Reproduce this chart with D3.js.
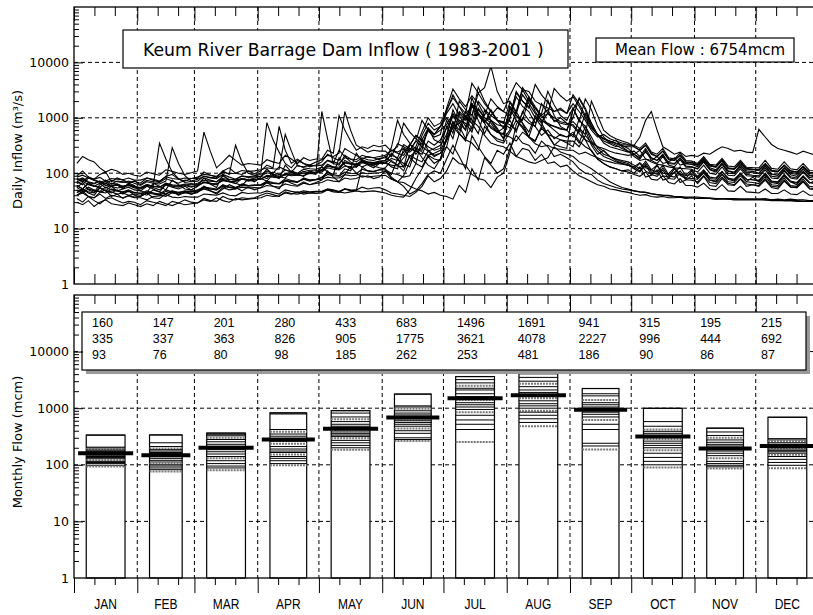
<!DOCTYPE html>
<html>
<head>
<meta charset="utf-8">
<script src="https://cdn.jsdelivr.net/npm/d3@7"></script>
<style>
  html, body { margin: 0; padding: 0; background: #fff; }
  svg { display: block; font-family: "Liberation Sans", Arial, sans-serif; }
  .grid { stroke: #000; stroke-width: 1; stroke-dasharray: 4,3; fill: none; }
  .wide { font-family: "DejaVu Sans", Verdana, sans-serif; }
</style>
</head>
<body>
<svg id="chart" width="813" height="615"></svg>
<script>
// ---- Categories and labels ----
const months = ["JAN","FEB","MAR","APR","MAY","JUN","JUL","AUG","SEP","OCT","NOV","DEC"];
const monthDays = [31,28,31,30,31,30,31,31,30,31,30,31];
const years = [1983,1984,1985,1986,1987,1988,1989,1990,1991,1992,1993,1994,1995,1996,1997,1998,1999,2000,2001];
const decadeTicks = [1,10,100,1000,10000];
const titleText = "Keum River Barrage Dam Inflow ( 1983-2001 )";
const meanFlowText = "Mean Flow : 6754mcm";
const yLabelTop = "Daily Inflow (m\u00B3/s)";
const yLabelBottom = "Monthly Flow (mcm)";

// ---- Daily inflow (m3/s) of each year: readings every ~3 days, grouped by month ----
const q1983 = [[55,68,50,45,62,72,58,48,52,66,60],[48,44,66,58,50,75,62,52,50],[58,82,64,55,95,72,66,60,78,70],[85,120,92,80,140,105,95,88,110,100],[130,105,95,190,140,120,230,165,140,125,150],[160,130,120,280,190,150,420,260,210,230],[300,850,520,380,1700,900,520,900,600,420],[600,1300,800,450,1000,700,2100,1100,700,600],[450,950,600,320,220,260,200,170,150,140],[120,150,110,95,140,90,85,120,92,80,110],[80,105,75,70,95,78,72,98,70,85],[70,95,68,65,90,70,62,88,66,75]];
const q1984 = [[40,48,38,36,45,50,38,42,35,40,37],[38,44,36,35,42,48,40,46,42],[45,58,48,42,52,62,55,48,56,50],[55,68,58,52,75,66,60,70,62,68],[75,110,85,70,95,130,100,85,90,80,85],[110,80,70,90,160,280,190,140,120,180],[450,1400,800,600,2300,1200,800,500,420,380],[1500,900,700,450,380,650,480,320,400,350],[300,650,400,250,180,150,130,120,110,115],[100,130,85,92,115,75,80,105,68,75,90],[65,88,60,58,80,62,60,78,58,62],[58,75,55,52,72,56,55,70,52,50]];
const q1985 = [[90,110,85,78,95,105,70,82,75,68,72],[66,82,75,70,88,95,78,72,80],[80,105,92,85,110,125,100,95,110,98],[110,140,125,700,260,150,180,150,130,140],[160,220,190,170,280,240,210,180,200,190,175],[200,160,140,190,260,380,300,250,280,320],[500,1100,700,420,700,1500,1000,800,550,650],[950,2400,1600,1300,800,1200,3000,1700,1100,900],[1500,850,2200,1400,700,450,350,400,300,250],[220,260,180,170,200,150,160,190,140,150,145],[130,170,125,115,150,110,105,140,110,108],[100,135,98,92,125,100,95,120,92,90]];
const q1986 = [[60,52,68,58,55,48,58,62,52,56,50],[48,58,52,46,62,56,52,58,50],[58,70,64,62,78,70,65,80,72,75],[80,72,95,86,82,105,92,90,100,95],[1300,420,150,260,200,160,130,170,150,140,160],[150,230,180,130,320,480,380,300,260,280],[700,420,1200,900,1800,1100,800,1400,900,650],[900,550,1300,900,700,480,600,420,500,450],[500,350,700,450,280,220,200,180,170,160],[140,120,165,115,105,140,95,100,130,90,95],[85,110,80,78,105,82,75,98,78,76],[72,95,70,68,90,70,66,85,68,64]];
const q1987 = [[70,62,82,74,68,75,64,72,70,66,72],[62,74,70,68,80,72,66,75,70],[72,88,82,80,95,85,78,90,86,90],[95,110,100,130,115,105,140,125,120,118],[130,170,150,140,210,180,160,190,175,170,185],[190,260,230,210,320,480,400,650,500,700],[1300,2600,1600,1200,4200,2800,3500,8500,3000,1800],[2000,1300,3500,2400,1600,1100,1400,850,1000,800],[750,550,1200,800,480,380,340,300,320,280],[220,180,260,170,150,200,140,130,175,128,130],[120,160,118,110,150,108,100,140,104,102],[98,135,95,92,125,94,88,118,90,85]];
const q1988 = [[35,30,38,32,28,34,36,32,29,31,30],[27,32,30,28,26,31,29,33,30],[29,35,32,31,38,34,33,36,35,36],[40,44,41,38,46,43,42,45,44,46],[46,50,48,47,52,50,49,130,145,135,125],[120,85,70,58,42,48,65,95,110,100],[180,320,200,120,480,300,200,150,260,220],[350,200,280,260,170,220,150,160,130,140],[110,90,80,70,62,58,52,50,47,45],[42,40,41,38,37,38,36,36,37,35,36],[35,36,35,34,35,34,35,34,34,34],[34,35,33,34,33,34,33,33,32,32]];
const q1989 = [[75,82,70,66,72,60,58,64,56,62,58],[54,62,58,350,180,105,80,68,65],[62,82,75,70,88,78,75,80,76,82],[88,80,105,95,92,110,100,98,105,100],[115,145,130,120,170,150,140,175,160,155,165],[170,290,900,500,350,220,300,650,400,350],[900,520,2000,1400,1100,2800,1800,1300,900,800],[650,1200,2600,1800,1200,900,800,700,650,600],[1000,2300,1500,800,500,350,300,280,260,240],[250,200,280,190,170,220,150,145,190,135,130],[120,160,115,105,145,100,98,130,96,92],[90,125,88,85,115,86,82,108,84,80]];
const q1990 = [[150,200,175,160,125,105,118,110,95,100,92],[88,105,98,92,115,108,100,95,102],[110,550,250,125,160,210,170,140,150,145],[140,175,160,150,210,180,150,190,170,180],[180,260,230,1100,600,380,260,300,280,320,300],[320,250,300,800,550,420,330,580,450,500],[1500,3300,2200,1600,2500,1800,1100,2200,1600,1300],[1100,2800,2000,1500,4000,2600,1900,1300,1500,1200],[2600,1800,1100,700,500,420,380,350,330,320],[320,280,350,240,220,280,190,180,230,170,165],[150,200,145,140,185,135,130,170,128,126],[125,170,122,118,160,120,115,150,112,110]];
const q1991 = [[50,44,52,48,47,56,50,48,45,47,44],[44,40,50,46,42,48,45,46,48],[48,58,52,50,62,56,55,60,58,60],[62,72,68,65,80,74,70,78,72,76],[85,105,95,90,120,110,150,130,110,105,115],[125,170,140,110,210,180,160,250,200,230],[380,700,500,1100,800,520,1400,900,650,420],[1600,1100,800,550,1100,800,500,450,400,380],[380,300,480,350,250,200,180,160,150,140],[130,110,150,105,95,125,90,85,110,82,80],[78,100,75,72,95,70,68,90,70,68],[65,88,62,60,82,60,58,78,58,56]];
const q1992 = [[45,52,44,40,55,48,44,50,42,48,40],[38,44,42,40,47,44,42,45,42],[46,54,52,50,58,55,52,64,60,62],[60,68,65,64,72,70,68,82,75,78],[82,95,90,88,105,100,98,118,110,108,115],[115,100,95,85,90,150,130,210,180,170],[300,220,520,400,350,260,700,500,380,350],[550,900,650,450,380,700,500,330,300,280],[1500,900,700,380,300,250,200,180,160,150],[120,105,140,95,88,115,80,78,100,76,75],[70,90,68,65,85,66,62,80,64,62],[60,80,58,56,75,57,55,72,54,52]];
const q1993 = [[80,72,86,76,70,66,74,70,68,72,66],[60,70,66,64,72,290,150,90,72],[78,88,84,82,110,95,320,160,100,92],[100,820,400,240,150,125,170,150,140,160],[175,210,200,230,1300,600,320,280,240,260,250],[250,200,340,300,260,380,900,600,500,700],[1200,1800,1100,700,1000,3600,2000,1300,900,800],[1900,1200,3200,2000,1500,1000,1200,900,800,750],[850,650,500,2000,1100,600,480,420,380,350],[300,260,320,220,200,250,175,170,210,160,155],[145,190,140,130,175,125,120,160,122,118],[115,150,112,108,140,110,105,135,104,100]];
const q1994 = [[55,48,56,50,46,44,52,48,46,50,45],[43,48,44,41,38,45,42,44,46],[46,52,48,44,55,50,52,56,54,55],[54,60,58,56,64,60,58,66,62,65],[68,76,72,70,82,78,80,90,85,88,90],[92,78,70,68,58,52,48,42,45,40],[38,34,60,45,120,75,190,140,100,120],[280,480,350,320,230,380,300,200,220,190],[160,120,100,95,75,65,60,55,52,50],[48,46,45,43,41,40,40,38,38,37,37],[37,36,36,35,35,35,34,34,34,34],[34,33,33,33,32,32,32,31,31,31]];
const q1995 = [[30,27,32,25,30,33,28,27,26,29,27],[25,28,26,31,28,26,29,27,28],[29,33,31,36,32,30,35,33,34,35],[36,40,38,39,44,42,46,42,44,43],[44,50,46,45,52,48,50,56,52,54,55],[50,44,42,40,38,45,58,90,70,80],[110,190,150,140,95,80,75,55,85,100],[230,750,1200,2400,1300,900,750,600,480,450],[550,380,300,260,180,150,130,120,110,105],[95,88,105,78,75,90,68,64,80,60,60],[56,66,52,50,62,48,47,58,46,45],[44,52,43,43,50,42,41,48,40,40]];
const q1996 = [[65,72,62,58,66,54,62,60,58,62,56],[54,60,58,56,64,60,58,62,58],[60,68,66,64,74,70,72,78,75,78],[78,88,85,82,95,90,92,102,98,100],[105,125,118,115,135,130,128,155,145,140,150],[150,185,170,240,330,280,260,650,500,600],[750,1200,900,600,1800,1200,900,650,550,500],[450,380,550,450,340,300,320,280,270,260],[260,220,240,210,190,170,160,150,145,140],[130,155,125,115,140,100,98,125,96,92,115],[88,115,85,82,108,80,78,100,78,76],[75,100,72,70,95,72,68,90,68,66]];
const q1997 = [[85,92,82,78,84,72,80,78,76,82,75],[75,82,78,72,86,80,78,82,80],[85,95,92,88,104,98,100,112,108,110],[115,125,120,118,500,250,135,130,140,135],[140,170,160,150,190,180,175,210,195,190,200],[210,260,240,280,240,300,560,1000,700,800],[1400,2300,1600,1000,800,2000,1400,1100,900,850],[750,600,1000,800,700,1800,1200,1000,850,800],[700,520,400,350,300,280,250,230,220,210],[220,190,240,185,170,210,155,150,185,148,145],[140,175,135,130,165,122,120,150,120,118],[115,145,112,108,138,110,105,130,104,100]];
const q1998 = [[60,52,64,58,56,66,58,54,56,60,54],[52,58,55,50,62,58,56,60,56],[60,68,66,64,74,70,72,80,76,78],[78,92,88,84,98,95,96,108,102,105],[110,135,125,118,155,145,140,165,155,150,160],[170,210,190,330,280,250,480,800,600,700],[1000,700,1300,1000,1800,1200,850,1100,1500,1300],[2500,4300,3200,3000,2000,1700,1500,1300,1400,1200],[1800,1300,900,600,450,500,420,380,350,330],[320,450,900,1300,600,300,260,220,240,200,210],[200,230,220,260,300,280,250,260,240,235],[620,450,330,280,260,240,220,250,230,210]];
const q1999 = [[45,50,46,44,54,48,46,42,44,40,42],[40,46,44,42,50,46,45,48,46],[50,56,54,52,60,56,55,62,60,60],[62,68,66,65,74,72,70,78,75,76],[78,85,82,82,94,90,92,102,98,100,102],[108,95,180,150,130,290,240,210,230,260],[420,650,800,1000,620,1200,900,700,550,520],[1600,1100,900,2200,1500,1100,750,700,620,600],[1400,2200,1400,700,500,420,360,320,280,250],[200,170,180,160,145,140,130,125,122,120,118],[105,140,100,95,130,92,90,120,90,88],[85,115,82,80,110,82,78,105,78,75]];
const q2000 = [[70,78,68,64,72,60,66,64,58,62,58],[55,62,58,56,66,62,60,64,62],[66,74,72,70,80,76,78,88,84,86],[88,102,96,92,115,105,100,118,110,112],[115,135,130,128,155,150,148,160,155,150,152],[150,140,135,130,200,250,220,380,320,400],[650,1100,900,800,550,1400,1000,900,750,700],[1000,3000,2000,1600,1000,850,1200,3400,2500,2000],[2400,1600,1000,650,500,420,380,340,310,300],[300,260,320,230,200,250,180,170,210,158,155],[140,180,135,128,170,120,118,155,118,116],[112,145,108,105,138,104,100,130,98,96]];
const q2001 = [[40,44,38,36,42,35,40,38,36,39,36],[36,33,38,39,41,37,36,38,37],[37,42,41,40,44,40,39,45,43,44],[44,48,45,42,50,47,45,48,46,47],[47,52,50,46,44,46,48,46,47,48,46],[44,40,38,37,50,80,120,200,150,180],[420,850,600,1300,900,700,480,350,320,300],[250,200,180,160,150,170,190,300,240,220],[200,160,140,120,100,85,70,62,55,52],[48,46,45,42,41,40,39,38,37,36,36],[35,35,35,34,34,34,33,33,33,33],[33,33,32,32,32,32,31,31,31,31]];
const dailySeries = [q1983,q1984,q1985,q1986,q1987,q1988,q1989,q1990,q1991,q1992,q1993,q1994,q1995,q1996,q1997,q1998,q1999,q2000,q2001];

// ---- Monthly flow statistics (mcm): mean, maximum, minimum ----
const monthMean = [160,147,201,280,433,683,1496,1691,941,315,195,215];
const monthMax  = [335,337,363,826,905,1775,3621,4078,2227,996,444,692];
const monthMin  = [93,76,80,98,185,262,253,481,186,90,86,87];

// ---- Monthly flow of each year (mcm), per month ----
const flowJan = [335,205,198,190,182,175,168,160,152,148,140,135,128,120,115,110,105,98,93];
const flowFeb = [337,245,210,195,185,175,165,158,150,140,130,120,112,105,100,95,88,82,76];
const flowMar = [363,340,325,300,280,255,230,212,200,185,170,155,140,130,118,105,95,88,80];
const flowApr = [826,790,420,385,350,320,290,260,235,210,190,175,165,152,140,130,118,105,98];
const flowMay = [905,820,700,640,580,520,480,440,410,380,355,335,315,295,270,245,220,200,185];
const flowJun = [1775,1100,1050,980,900,820,760,700,640,600,560,520,480,440,400,360,300,280,262];
const flowJul = [3621,3200,2800,2500,2250,2100,1800,1600,1400,1250,1150,1050,950,850,750,620,520,420,253];
const flowAug = [4078,3500,3000,2700,2400,2100,1900,1700,1500,1350,1200,1100,1000,900,850,750,650,560,481];
const flowSep = [2227,1800,1650,1400,1250,1150,1050,1000,960,900,850,780,700,620,520,420,240,215,186];
const flowOct = [996,580,480,420,390,360,330,305,285,262,240,220,200,180,160,135,115,100,90];
const flowNov = [444,380,330,300,275,250,230,215,200,190,175,160,145,130,115,105,98,92,86];
const flowDec = [692,290,275,260,245,230,220,210,200,190,180,170,160,150,140,125,110,98,87];
const monthlyFlows = [flowJan,flowFeb,flowMar,flowApr,flowMay,flowJun,flowJul,flowAug,flowSep,flowOct,flowNov,flowDec];

// ---- Layout ----
const svg = d3.select("#chart");
const monthStart = Array.from(d3.cumsum([0].concat(monthDays.slice(0, 11))));
const monthEnd = Array.from(d3.cumsum(monthDays));
const boundaries = monthStart.slice(1);

const x = d3.scaleLinear().domain([0, 365]).range([74, 819]);
const yTop = d3.scaleLog().domain([1, 1e5]).range([284, 7]);
const yBot = d3.scaleLog().domain([1, 1e5]).range([578, 295]);

// place each reading at its day within its month
function toPoints(series) {
  const pts = [];
  series.forEach((vals, m) => {
    const step = monthDays[m] / vals.length;
    vals.forEach((v, j) => pts.push([monthStart[m] + (j + 0.5) * step, v]));
  });
  return pts;
}

// Minor log ticks (2..9 within each decade) and day ticks
const minorLog = [];
decadeTicks.forEach(d => { for (let k = 2; k <= 9; k++) minorLog.push(d * k); });
const dayMinor = [];
monthStart.forEach(s => { dayMinor.push(s + 10, s + 20); });
const dayMajor = monthStart.concat([365]);

function grid(g, y) {
  decadeTicks.slice(1).forEach(v => {
    g.append("line").attr("class", "grid")
      .attr("x1", x(0)).attr("x2", x(365)).attr("y1", y(v)).attr("y2", y(v));
  });
  boundaries.forEach(d => {
    g.append("line").attr("class", "grid")
      .attr("x1", x(d)).attr("x2", x(d)).attr("y1", y.range()[1]).attr("y2", y.range()[0]);
  });
}

function frame(g, y, bottomOutward) {
  const top = y.range()[1], bottom = y.range()[0];
  const strip = sel => sel.call(s => s.select(".domain").remove());
  g.append("g").attr("transform", `translate(${x(0)},0)`)
    .call(d3.axisLeft(y).tickValues(decadeTicks).tickSize(0).tickPadding(5).tickFormat(d3.format("d")))
    .call(strip).selectAll("text")
    .attr("font-size", 12.5).attr("font-family", "DejaVu Sans, Verdana, sans-serif").attr("fill", "#000");
  g.append("g").attr("transform", `translate(${x(0)},0)`)
    .call(d3.axisRight(y).tickValues(minorLog).tickSize(5).tickFormat("")).call(strip);
  g.append("g").attr("transform", `translate(${x(0)},0)`)
    .call(d3.axisRight(y).tickValues(decadeTicks.slice(1)).tickSize(9).tickFormat("")).call(strip);
  g.append("g").attr("transform", `translate(${x(365)},0)`)
    .call(d3.axisLeft(y).tickValues(minorLog).tickSize(6).tickFormat("")).call(strip);
  g.append("g").attr("transform", `translate(0,${top})`)
    .call(d3.axisBottom(x).tickValues(dayMinor).tickSize(9).tickFormat("")).call(strip);
  g.append("g").attr("transform", `translate(0,${top})`)
    .call(d3.axisBottom(x).tickValues(dayMajor).tickSize(bottomOutward ? 17 : 14).tickFormat("")).call(strip);
  if (bottomOutward) {
    g.append("g").attr("transform", `translate(0,${bottom})`)
      .call(d3.axisBottom(x).tickValues(dayMinor).tickSize(7).tickFormat("")).call(strip);
    g.append("g").attr("transform", `translate(0,${bottom})`)
      .call(d3.axisBottom(x).tickValues(dayMajor).tickSize(15).tickFormat("")).call(strip);
  } else {
    g.append("g").attr("transform", `translate(0,${bottom})`)
      .call(d3.axisTop(x).tickValues(dayMinor).tickSize(10).tickFormat("")).call(strip);
    g.append("g").attr("transform", `translate(0,${bottom})`)
      .call(d3.axisTop(x).tickValues(dayMajor).tickSize(16).tickFormat("")).call(strip);
  }
  g.append("rect").attr("x", x(0)).attr("y", top)
    .attr("width", x(365) - x(0)).attr("height", bottom - top)
    .attr("fill", "none").attr("stroke", "#000").attr("stroke-width", 1.3);
}

// ================= Upper panel: daily inflow =================
const gTop = svg.append("g");
grid(gTop, yTop);

svg.append("clipPath").attr("id", "clipTop").append("rect")
  .attr("x", x(0)).attr("y", yTop.range()[1])
  .attr("width", x(365) - x(0)).attr("height", yTop.range()[0] - yTop.range()[1]);

const line = d3.line().x(d => x(d[0])).y(d => yTop(d[1]));
gTop.append("g").attr("clip-path", "url(#clipTop)")
  .selectAll("path").data(dailySeries.map(toPoints)).join("path")
  .attr("d", line).attr("fill", "none").attr("stroke", "#000")
  .attr("stroke-width", 1.1).attr("stroke-linejoin", "miter");

// title and mean-flow boxes
gTop.append("rect").attr("x", 123).attr("y", 30).attr("width", 445).attr("height", 38)
  .attr("fill", "#fff").attr("stroke", "#000").attr("stroke-width", 1.2);
gTop.append("text").attr("class", "wide").attr("x", 143).attr("y", 56)
  .attr("font-size", 17.3).text(titleText);
gTop.append("rect").attr("x", 596).attr("y", 38).attr("width", 198).attr("height", 24)
  .attr("fill", "#fff").attr("stroke", "#000").attr("stroke-width", 1.2);
gTop.append("text").attr("class", "wide").attr("x", 615).attr("y", 55)
  .attr("font-size", 15).text(meanFlowText);

frame(gTop, yTop, false);

gTop.append("text").attr("class", "wide")
  .attr("transform", `translate(22,${(yTop.range()[0] + yTop.range()[1]) / 2 + 4}) rotate(-90)`)
  .attr("text-anchor", "middle").attr("font-size", 13).text(yLabelTop);

// ================= Lower panel: monthly flow =================
const gBot = svg.append("g");
grid(gBot, yBot);

const pad = 6;
months.forEach((m, i) => {
  const x0 = x(monthStart[i] + pad), x1 = x(monthEnd[i] - pad);
  gBot.append("rect").attr("x", x0).attr("y", yBot(monthMax[i]))
    .attr("width", x1 - x0).attr("height", yBot(1) - yBot(monthMax[i]))
    .attr("fill", "#fff").attr("stroke", "#000").attr("stroke-width", 1.2);
  gBot.append("g").selectAll("line").data(monthlyFlows[i]).join("line")
    .attr("x1", x0).attr("x2", x1)
    .attr("y1", d => yBot(d)).attr("y2", d => yBot(d))
    .attr("stroke", (d, j) => (j % 5 === 3 ? "#777" : "#000"))
    .attr("stroke-width", (d, j) => (j % 5 === 3 ? 2 : 1))
    .attr("stroke-dasharray", (d, j) => (j % 5 === 3 ? "2,1" : null));
  gBot.append("line")
    .attr("x1", x(monthStart[i] + 2)).attr("x2", x(monthEnd[i] - 2))
    .attr("y1", yBot(monthMean[i])).attr("y2", yBot(monthMean[i]))
    .attr("stroke", "#000").attr("stroke-width", 4);
});

// statistics table (mean / max / min)
gBot.append("rect").attr("x", 86).attr("y", 316).attr("width", 724).attr("height", 58).attr("fill", "#999");
gBot.append("rect").attr("x", 82).attr("y", 312).attr("width", 724).attr("height", 58)
  .attr("fill", "#fff").attr("stroke", "#000").attr("stroke-width", 1.2);
const tx = d3.scalePoint().domain(months).range([92, 761]);
[monthMean, monthMax, monthMin].forEach((r, k) => {
  gBot.append("g").selectAll("text").data(r).join("text")
    .attr("x", (d, i) => tx(months[i])).attr("y", 327 + k * 16)
    .attr("font-size", 12.5).text(d => d);
});

frame(gBot, yBot, true);

gBot.append("g").selectAll("text").data(months).join("text")
  .attr("transform", (d, i) => `translate(${x((monthStart[i] + monthEnd[i]) / 2)},609) scale(0.8,1)`)
  .attr("text-anchor", "middle").attr("font-size", 15).text(d => d);

gBot.append("text").attr("class", "wide")
  .attr("transform", `translate(22,442) rotate(-90)`)
  .attr("text-anchor", "middle").attr("font-size", 13).text(yLabelBottom);
</script>
</body>
</html>
